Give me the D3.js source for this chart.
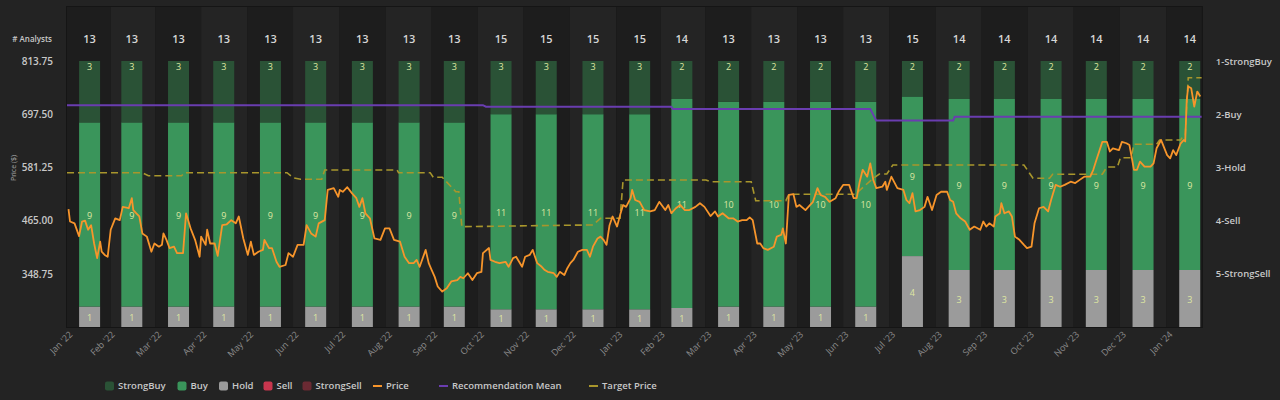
<!DOCTYPE html>
<html><head><meta charset="utf-8">
<script src="https://cdn.jsdelivr.net/npm/d3@7"></script>
<style>
html,body{margin:0;padding:0;background:#232323;}
svg{display:block;font-family:"Open Sans",sans-serif;}
</style></head><body>
<svg id="chart" width="1280" height="400"></svg>
<script>
// ---------- DATA ----------
const monthEnds = ["2022-01-31","2022-02-28","2022-03-31","2022-04-30","2022-05-31","2022-06-30","2022-07-31","2022-08-31","2022-09-30","2022-10-31","2022-11-30","2022-12-31","2023-01-31","2023-02-28","2023-03-31","2023-04-30","2023-05-31","2023-06-30","2023-07-31","2023-08-31","2023-09-30","2023-10-31","2023-11-30","2023-12-31","2024-01-31"];
const monthLabels = ["Jan '22","Feb '22","Mar '22","Apr '22","May '22","Jun '22","Jul '22","Aug '22","Sep '22","Oct '22","Nov '22","Dec '22","Jan '23","Feb '23","Mar '23","Apr '23","May '23","Jun '23","Jul '23","Aug '23","Sep '23","Oct '23","Nov '23","Dec '23","Jan '24"];
const analysts   = [13,13,13,13,13,13,13,13,13,15,15,15,15,14,13,13,13,13,15,14,14,14,14,14,14];
const strongBuy  = [3,3,3,3,3,3,3,3,3,3,3,3,3,2,2,2,2,2,2,2,2,2,2,2,2];
const buy        = [9,9,9,9,9,9,9,9,9,11,11,11,11,11,10,10,10,10,9,9,9,9,9,9,9];
const hold       = [1,1,1,1,1,1,1,1,1,1,1,1,1,1,1,1,1,1,4,3,3,3,3,3,3];
const sell       = [0,0,0,0,0,0,0,0,0,0,0,0,0,0,0,0,0,0,0,0,0,0,0,0,0];
const strongSell = [0,0,0,0,0,0,0,0,0,0,0,0,0,0,0,0,0,0,0,0,0,0,0,0,0];

const priceTicks = [348.75, 465.00, 581.25, 697.50, 813.75];
const recTicks = [1,2,3,4,5];
const recNames = ["1-StrongBuy","2-Buy","3-Hold","4-Sell","5-StrongSell"];

const price = [
["2022-01-17",490],["2022-01-18",463],["2022-01-21",459],["2022-01-24",431],["2022-01-26",463],["2022-01-28",465],["2022-01-30",445],["2022-02-01",455],["2022-02-03",415],["2022-02-05",383],["2022-02-07",419],["2022-02-08",397],["2022-02-10",390],["2022-02-12",386],["2022-02-14",445],["2022-02-17",470],["2022-02-20",466],["2022-02-22",495],["2022-02-26",492],["2022-02-28",514],
["2022-03-01",488],["2022-03-03",481],["2022-03-05",474],["2022-03-07",437],["2022-03-10",430],["2022-03-13",397],["2022-03-15",415],["2022-03-18",408],["2022-03-20",412],["2022-03-21",437],["2022-03-23",423],["2022-03-25",405],["2022-03-28",408],["2022-03-30",394],
["2022-04-03",394],["2022-04-05",481],["2022-04-08",448],["2022-04-11",423],["2022-04-14",386],["2022-04-15",430],["2022-04-18",412],["2022-04-19",445],["2022-04-21",415],["2022-04-24",415],["2022-04-26",388],["2022-04-29",455],
["2022-05-02",457],["2022-05-05",466],["2022-05-08",459],["2022-05-10",474],["2022-05-13",426],["2022-05-16",390],["2022-05-18",419],["2022-05-20",390],["2022-05-23",397],["2022-05-26",401],["2022-05-27",423],["2022-05-30",405],
["2022-06-01",405],["2022-06-04",375],["2022-06-06",364],["2022-06-10",368],["2022-06-12",394],["2022-06-15",386],["2022-06-18",412],["2022-06-22",412],["2022-06-24",455],["2022-06-27",437],["2022-06-30",430],
["2022-07-02",459],["2022-07-06",466],["2022-07-08",532],["2022-07-12",536],["2022-07-15",517],["2022-07-16",532],["2022-07-18",528],["2022-07-21",538],["2022-07-24",525],["2022-07-27",514],["2022-07-29",495],["2022-07-31",514],
["2022-08-02",481],["2022-08-05",470],["2022-08-08",426],["2022-08-12",423],["2022-08-15",448],["2022-08-18",448],["2022-08-21",423],["2022-08-25",419],["2022-08-28",386],["2022-08-31",372],
["2022-09-03",372],["2022-09-05",379],["2022-09-07",364],["2022-09-11",401],["2022-09-13",372],["2022-09-15",357],["2022-09-17",342],["2022-09-19",321],["2022-09-22",310],["2022-09-25",317],["2022-09-28",332],
["2022-10-02",335],["2022-10-04",342],["2022-10-06",339],["2022-10-09",350],["2022-10-12",335],["2022-10-15",350],["2022-10-18",353],["2022-10-19",394],["2022-10-23",405],["2022-10-24",379],["2022-10-27",375],["2022-10-30",372],
["2022-11-03",375],["2022-11-05",364],["2022-11-08",383],["2022-11-10",386],["2022-11-14",364],["2022-11-16",386],["2022-11-19",390],["2022-11-21",401],["2022-11-24",372],["2022-11-27",364],["2022-11-29",357],
["2022-12-01",353],["2022-12-05",350],["2022-12-07",342],["2022-12-09",353],["2022-12-12",346],["2022-12-14",361],["2022-12-16",372],["2022-12-18",379],["2022-12-21",397],["2022-12-24",401],["2022-12-27",401],["2022-12-29",386],["2022-12-31",408],
["2023-01-03",426],["2023-01-05",430],["2023-01-07",423],["2023-01-09",412],["2023-01-11",455],["2023-01-13",474],["2023-01-16",452],["2023-01-18",477],["2023-01-20",499],["2023-01-22",495],["2023-01-25",514],["2023-01-26",532],["2023-01-28",510],["2023-01-31",506],
["2023-02-03",488],["2023-02-07",485],["2023-02-10",488],["2023-02-13",506],["2023-02-17",488],["2023-02-19",499],["2023-02-21",481],["2023-02-24",492],["2023-02-27",499],
["2023-03-02",488],["2023-03-05",488],["2023-03-09",495],["2023-03-12",503],["2023-03-15",495],["2023-03-19",475],["2023-03-22",485],["2023-03-24",474],["2023-03-27",481],["2023-03-31",470],
["2023-04-03",470],["2023-04-06",463],["2023-04-09",466],["2023-04-12",466],["2023-04-14",472],["2023-04-16",466],["2023-04-19",415],["2023-04-21",415],["2023-04-23",405],["2023-04-26",401],["2023-04-30",408],
["2023-05-02",430],["2023-05-05",434],["2023-05-06",448],["2023-05-08",415],["2023-05-10",521],["2023-05-13",523],["2023-05-15",495],["2023-05-17",499],["2023-05-21",488],["2023-05-24",499],["2023-05-26",506],["2023-05-29",536],["2023-05-31",521],
["2023-06-03",517],["2023-06-06",506],["2023-06-10",514],["2023-06-12",528],["2023-06-15",543],["2023-06-19",543],["2023-06-22",514],["2023-06-24",514],["2023-06-26",550],["2023-06-28",576],
["2023-07-01",561],["2023-07-03",590],["2023-07-05",554],["2023-07-07",536],["2023-07-11",539],["2023-07-13",550],["2023-07-14",532],["2023-07-17",561],["2023-07-21",536],["2023-07-25",532],["2023-07-27",510],["2023-07-29",503],["2023-07-31",525],
["2023-08-02",485],["2023-08-05",488],["2023-08-08",495],["2023-08-10",517],["2023-08-13",488],["2023-08-16",521],["2023-08-19",528],["2023-08-23",528],["2023-08-25",510],["2023-08-27",506],["2023-08-29",481],
["2023-09-01",470],["2023-09-04",463],["2023-09-07",445],["2023-09-10",452],["2023-09-14",445],["2023-09-16",463],["2023-09-18",452],["2023-09-20",459],["2023-09-23",452],["2023-09-24",474],["2023-09-27",481],["2023-09-28",503],["2023-09-30",481],
["2023-10-03",485],["2023-10-05",474],["2023-10-07",430],["2023-10-10",423],["2023-10-13",412],["2023-10-15",405],["2023-10-18",408],["2023-10-20",459],["2023-10-23",492],["2023-10-26",495],["2023-10-29",485],["2023-10-31",510],
["2023-11-03",543],["2023-11-06",539],["2023-11-09",543],["2023-11-13",550],["2023-11-16",547],["2023-11-19",554],["2023-11-22",561],["2023-11-26",561],["2023-11-28",576],["2023-11-30",597],
["2023-12-04",637],["2023-12-07",637],["2023-12-09",616],["2023-12-11",623],["2023-12-15",619],["2023-12-17",637],["2023-12-20",634],["2023-12-22",630],["2023-12-25",576],["2023-12-27",576],["2023-12-29",594],
["2024-01-01",583],["2024-01-05",583],["2024-01-07",590],["2024-01-09",623],["2024-01-12",641],["2024-01-16",608],["2024-01-18",601],["2024-01-20",619],["2024-01-22",608],["2024-01-25",634],["2024-01-27",641],["2024-01-28",638],["2024-01-29",729],["2024-01-30",758],
["2024-02-01",754],["2024-02-03",714],["2024-02-05",747],["2024-02-07",736]
];

const targetPrice = [
["2022-01-16",569.7],["2022-03-07",569.7],["2022-03-11",563.1],["2022-04-02",563.1],["2022-04-04",569.7],["2022-06-11",569.7],["2022-06-15",558.7],["2022-06-20",555.3],["2022-07-04",555.3],["2022-07-06",575.6],["2022-08-23",575.6],["2022-08-24",569.7],["2022-09-14",569.7],["2022-09-16",559.6],["2022-09-22",559.6],["2022-10-01",528.2],["2022-10-03",528.2],["2022-10-05",451.7],["2022-12-28",455.4],["2022-12-31",455.4],["2023-01-05",470],["2023-01-18",470],["2023-01-20",553.7],["2023-03-16",553.7],["2023-03-19",550],["2023-04-15",550],["2023-04-18",508.5],["2023-05-08",508.5],["2023-05-10",522.5],["2023-06-23",522.5],["2023-07-05",557.4],["2023-07-09",566.8],["2023-07-14",566.8],["2023-07-18",586.5],["2023-10-13",586.5],["2023-10-19",557.4],["2023-10-30",557.4],["2023-11-01",566.2],["2023-12-04",566.2],["2023-12-07",582.1],["2023-12-14",582.1],["2023-12-16",602.4],["2023-12-23",602.4],["2023-12-25",631.7],["2024-01-09",631.7],["2024-01-11",641.1],["2024-01-25",641.1],["2024-01-27",652],["2024-01-28",652],["2024-01-30",777.3],["2024-02-08",777.3]
];

const recMean = [
["2022-01-16",1.83],["2022-10-19",1.83],["2022-10-21",1.86],["2023-02-21",1.86],["2023-02-22",1.90],["2023-07-03",1.90],["2023-07-07",2.12],["2023-08-27",2.12],["2023-08-28",2.05],["2024-02-08",2.05]
];

// ---------- CHART ----------
const parse = d3.utcParse("%Y-%m-%d");
const svg = d3.select("#chart");
const L = 67, R = 1201.8, T = 7, B = 327;
const C = {strongBuy:"#2a5236", buy:"#3a955b", hold:"#9b9b9b", sell:"#c8364e", strongSell:"#6a2a33",
           price:"#f7952b", rec:"#6a3db0", target:"#a8962c"};

const x = d3.scaleUtc().domain([parse("2022-01-16"), parse("2024-02-08")]).range([L, R]);
const yPrice = d3.scaleLinear().domain([232.5, 813.75]).range([B, 61]);
const yPct = d3.scaleLinear().domain([0, 1]).range([B, 61]);
const yRec = d3.scaleLinear().domain([1, 6]).range([61, B]);

const dates = monthEnds.map(parse);

// background bands
const edges = [x.domain()[0]];
for (let i = 0; i < dates.length - 1; i++) edges.push(new Date((+dates[i] + +dates[i+1]) / 2));
edges.push(x.domain()[1]);
svg.append("rect").attr("x", L - 1).attr("y", T - 1).attr("width", R - L + 2).attr("height", B - T + 2).attr("fill", "#151515");
svg.append("g").selectAll("rect").data(d3.range(dates.length)).join("rect")
  .attr("x", i => x(edges[i])).attr("y", T)
  .attr("width", i => x(edges[i+1]) - x(edges[i])).attr("height", B - T)
  .attr("fill", i => i % 2 === 0 ? "#1d1d1d" : "#242424");

// stacked bars
const table = dates.map((d, i) => ({date: d, strongSell: strongSell[i], sell: sell[i], hold: hold[i], buy: buy[i], strongBuy: strongBuy[i]}));
const keys = ["strongSell", "sell", "hold", "buy", "strongBuy"];
const stacked = d3.stack().keys(keys).offset(d3.stackOffsetExpand)(table);
const bw = 21;
const barG = svg.append("g");
stacked.forEach(layer => {
  barG.append("g").selectAll("rect").data(layer.filter(d => d[1] > d[0])).join("rect")
    .attr("x", d => x(d.data.date) - bw / 2).attr("width", bw)
    .attr("y", d => yPct(d[1])).attr("height", d => yPct(d[0]) - yPct(d[1]))
    .attr("fill", C[layer.key]);
});
// segment labels
const labG = svg.append("g").attr("font-size", 9).attr("fill", "#dfe7a2").attr("text-anchor", "middle");
stacked.forEach(layer => {
  labG.append("g").selectAll("text").data(layer.filter(d => d[1] > d[0])).join("text")
    .attr("x", d => x(d.data.date))
    .attr("y", d => layer.key === "strongBuy" ? yPct(d[1]) + 6 : (yPct(d[0]) + yPct(d[1])) / 2 + 1)
    .attr("dy", "0.35em")
    .text(d => d.data[layer.key]);
});

// analysts count row
svg.append("g").selectAll("text").data(dates).join("text")
  .attr("x", d => x(d)).attr("y", 39).attr("dy", "0.35em")
  .attr("text-anchor", "middle").attr("font-size", 11).attr("font-weight", 600).attr("fill", "#d6d6d6")
  .text((d, i) => analysts[i]);
svg.append("text").attr("x", 52).attr("y", 39).attr("dy", "0.35em").attr("text-anchor", "end")
  .attr("font-size", 8).attr("font-weight", 600).attr("fill", "#c8c8c8").text("# Analysts");

// lines
const clip = svg.append("clipPath").attr("id", "clip").append("rect").attr("x", L).attr("y", T).attr("width", R - L).attr("height", B - T);
const lineG = svg.append("g").attr("clip-path", "url(#clip)");
lineG.append("path").datum(recMean)
  .attr("d", d3.line().x(d => x(parse(d[0]))).y(d => yRec(d[1])))
  .attr("fill", "none").attr("stroke", C.rec).attr("stroke-width", 2);
lineG.append("path").datum(targetPrice)
  .attr("d", d3.line().x(d => x(parse(d[0]))).y(d => yPrice(d[1])))
  .attr("fill", "none").attr("stroke", C.target).attr("stroke-width", 1.6).attr("stroke-dasharray", "7,4");
lineG.append("path").datum(price)
  .attr("d", d3.line().x(d => x(parse(d[0]))).y(d => yPrice(d[1])))
  .attr("fill", "none").attr("stroke", C.price).attr("stroke-width", 1.8).attr("stroke-linejoin", "round");

// axes
const ax = svg.append("g").attr("transform", `translate(${L},0)`)
  .call(d3.axisLeft(yPrice).tickValues(priceTicks).tickFormat(d3.format(".2f")).tickSize(0).tickPadding(14));
ax.select(".domain").remove();
ax.selectAll("text").attr("font-size", 10).attr("font-weight", 600).attr("fill", "#c8c8c8").attr("font-family", "Open Sans");
svg.append("text").attr("transform", "translate(16,168) rotate(-90)").attr("text-anchor", "middle")
  .attr("font-size", 7).attr("fill", "#a8a8a8").text("Price ($)");

const ar = svg.append("g").attr("transform", `translate(${R},0)`)
  .call(d3.axisRight(yRec).tickValues(recTicks).tickFormat(d => recNames[d - 1]).tickSize(0).tickPadding(14));
ar.select(".domain").remove();
ar.selectAll("text").attr("font-size", 9.5).attr("font-weight", 600).attr("fill", "#c8c8c8").attr("font-family", "Open Sans");

const axb = svg.append("g").attr("transform", `translate(0,${B})`)
  .call(d3.axisBottom(x).tickValues(dates).tickFormat((d, i) => monthLabels[i]).tickSize(0));
axb.select(".domain").remove();
axb.selectAll("text").attr("font-size", 9).attr("fill", "#8c8c8c").attr("font-family", "Open Sans")
  .attr("text-anchor", "end").attr("y", 0).attr("dy", 0)
  .attr("transform", "translate(-17,8) rotate(-45)");

// legend
const legend = [
  {name: "StrongBuy", type: "box", color: C.strongBuy, x: 105},
  {name: "Buy", type: "box", color: C.buy, x: 177.5},
  {name: "Hold", type: "box", color: C.hold, x: 219},
  {name: "Sell", type: "box", color: C.sell, x: 263.5},
  {name: "StrongSell", type: "box", color: C.strongSell, x: 302.5},
  {name: "Price", type: "line", color: C.price, x: 373},
  {name: "Recommendation Mean", type: "line", color: C.rec, x: 439},
  {name: "Target Price", type: "line", color: C.target, x: 589}
];
const lg = svg.append("g");
legend.forEach(it => {
  if (it.type === "box") lg.append("rect").attr("x", it.x).attr("y", 381.5).attr("width", 9).attr("height", 9).attr("rx", 2).attr("fill", it.color);
  else lg.append("line").attr("x1", it.x).attr("x2", it.x + 9).attr("y1", 386).attr("y2", 386).attr("stroke", it.color).attr("stroke-width", 2);
  lg.append("text").attr("x", it.x + 13).attr("y", 386).attr("dy", "0.35em").attr("font-size", 9.5).attr("font-weight", 600)
    .attr("fill", "#c8c8c8").text(it.name);
});
</script>
</body></html>
